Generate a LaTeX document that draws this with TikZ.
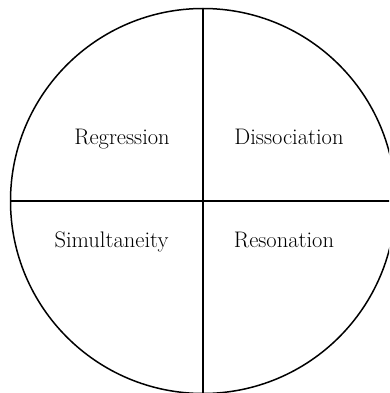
\documentclass[tikz,border=0pt]{standalone}
\begin{document}
\begin{tikzpicture}[x=1pt,y=-1pt,
  outline/.style={line width=1.5pt,black},
  lbl/.style={anchor=base,inner sep=0pt,font=\fontsize{22.5}{26}\selectfont}]
\useasboundingbox (0,0) rectangle (389,393);
\clip (0,0) rectangle (389,393);
\coordinate (c) at (203,201);
\draw[outline] (c) circle[radius=192.5];
\coordinate (top) at (203,8.5);
\coordinate (bot) at (203,393.5);
\coordinate (lft) at (10.5,201);
\coordinate (rgt) at (395.5,201);
\draw[outline] (top) -- (bot);
\draw[outline] (lft) -- (rgt);
\node[lbl] (reg) at (122,144) {Regression};
\node[lbl] (dis) at (289,144) {Dissociation};
\node[lbl] (sim) at (111.5,247) {Simultaneity};
\node[lbl] (res) at (284,247) {Resonation};
\end{tikzpicture}
\end{document}
